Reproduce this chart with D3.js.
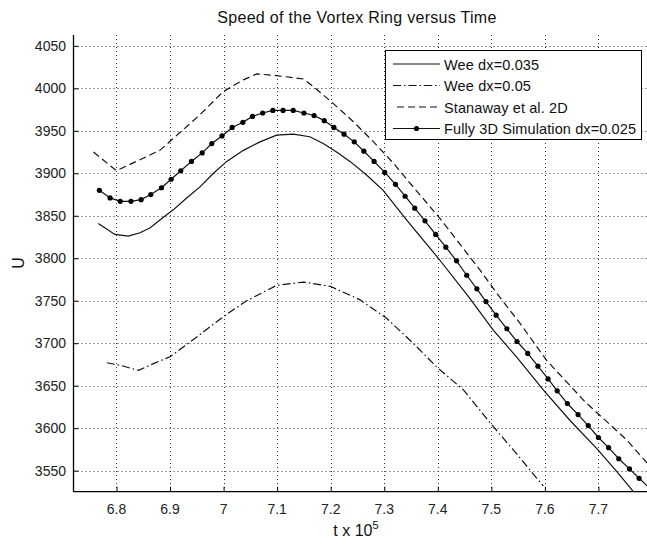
<!DOCTYPE html>
<html>
<head>
<meta charset="utf-8">
<script src="https://cdn.jsdelivr.net/npm/d3@7"></script>
<style>
  body { margin: 0; background: #fff; }
  svg { display: block; font-family: Arial, "Liberation Sans", sans-serif; }
</style>
</head>
<body>
<script>
// Tick values and labels
const xTicks = [6.8, 6.9, 7.0, 7.1, 7.2, 7.3, 7.4, 7.5, 7.6, 7.7];
const xTickLabels = ["6.8", "6.9", "7", "7.1", "7.2", "7.3", "7.4", "7.5", "7.6", "7.7"];
const yTicks = [3550, 3600, 3650, 3700, 3750, 3800, 3850, 3900, 3950, 4000, 4050];

// Wee dx=0.035 (solid)
const weeFineT = [6.766, 6.797, 6.822, 6.844, 6.863, 6.881, 6.906, 6.931, 6.956, 6.981, 7.006, 7.037, 7.068, 7.099, 7.130, 7.161, 7.186, 7.211, 7.236, 7.267, 7.298, 7.342, 7.401, 7.457, 7.504, 7.547, 7.597, 7.647, 7.697, 7.734, 7.763, 7.790];
const weeFineU = [3841, 3828, 3826, 3830, 3836, 3845, 3857, 3871, 3884, 3900, 3914, 3927, 3937, 3945, 3946, 3943, 3935, 3925, 3914, 3898, 3880, 3845, 3800, 3755, 3715, 3684, 3645, 3609, 3576, 3549, 3527, 3503];

// Wee dx=0.05 (dash-dot)
const weeCoarseT = [6.782, 6.807, 6.841, 6.869, 6.900, 6.943, 6.999, 7.043, 7.099, 7.149, 7.199, 7.255, 7.305, 7.354, 7.398, 7.448, 7.498, 7.547, 7.585, 7.597];
const weeCoarseU = [3677, 3674, 3668, 3676, 3684, 3704, 3731, 3750, 3768, 3772, 3767, 3751, 3729, 3700, 3672, 3645, 3606, 3570, 3541, 3532];

// Stanaway et al. 2D (dashed)
const stanT = [6.757, 6.800, 6.810, 6.881, 6.956, 6.999, 7.037, 7.062, 7.099, 7.149, 7.168, 7.205, 7.242, 7.280, 7.317, 7.354, 7.404, 7.442, 7.479, 7.510, 7.554, 7.603, 7.675, 7.722, 7.753, 7.791];
const stanU = [3925, 3903, 3906, 3927, 3969, 3996, 4010, 4017, 4015, 4011, 4002, 3982, 3961, 3937, 3912, 3884, 3847, 3816, 3786, 3759, 3723, 3680, 3631, 3604, 3586, 3559];

// Fully 3D Simulation dx=0.025 (solid with markers)
const simT = [6.768, 6.788, 6.807, 6.827, 6.846, 6.864, 6.884, 6.902, 6.920, 6.940, 6.960, 6.978, 6.997, 7.016, 7.036, 7.054, 7.073, 7.092, 7.111, 7.130, 7.150, 7.169, 7.188, 7.206, 7.225, 7.244, 7.262, 7.281, 7.301, 7.321, 7.339, 7.357, 7.376, 7.396, 7.415, 7.435, 7.454, 7.473, 7.490, 7.509, 7.529, 7.548, 7.568, 7.587, 7.606, 7.623, 7.642, 7.662, 7.681, 7.700, 7.719, 7.738, 7.758, 7.776, 7.796];
const simU = [3880, 3871, 3867, 3867, 3869, 3875, 3883, 3893, 3903, 3914, 3924, 3935, 3944, 3954, 3960, 3967, 3971, 3974, 3974, 3974, 3971, 3968, 3962, 3954, 3946, 3937, 3926, 3914, 3901, 3887, 3873, 3859, 3844, 3828, 3813, 3797, 3780, 3764, 3749, 3733, 3717, 3702, 3688, 3673, 3658, 3644, 3629, 3616, 3603, 3589, 3577, 3564, 3552, 3541, 3529];

const seriesNames = ["Wee dx=0.035", "Wee dx=0.05", "Stanaway et al. 2D", "Fully 3D Simulation dx=0.025"];

const width = 647, height = 544;
const plot = { left: 73.5, right: 647, top: 35, bottom: 491.7 };

const svg = d3.select("body").append("svg")
  .attr("width", width)
  .attr("height", height);

const x = d3.scaleLinear().domain([6.7197, 7.7907]).range([plot.left, plot.right]);
const y = d3.scaleLinear().domain([3525.2, 4062.8]).range([plot.bottom, plot.top]);

svg.append("defs").append("clipPath").attr("id", "clip")
  .append("rect")
  .attr("x", plot.left).attr("y", plot.top)
  .attr("width", plot.right - plot.left).attr("height", plot.bottom - plot.top);

// Grid (dotted)
const grid = svg.append("g").attr("stroke", "#333").attr("stroke-width", 1)
  .attr("stroke-dasharray", "1,3");
grid.selectAll(".gx").data(xTicks).enter().append("line")
  .attr("x1", d => Math.round(x(d)) + 0.5).attr("x2", d => Math.round(x(d)) + 0.5)
  .attr("y1", plot.top).attr("y2", plot.bottom);
grid.selectAll(".gy").data(yTicks).enter().append("line")
  .attr("y1", d => Math.round(y(d)) + 0.5).attr("y2", d => Math.round(y(d)) + 0.5)
  .attr("x1", plot.left).attr("x2", plot.right);

// Axes (MATLAB style: inward ticks)
const xAxis = d3.axisTop(x).tickValues(xTicks).tickSize(5).tickFormat("");
const yAxis = d3.axisRight(y).tickValues(yTicks).tickSize(5).tickFormat("");
svg.append("g").attr("transform", `translate(0,${plot.bottom})`).call(xAxis)
  .call(g => g.select(".domain").remove());
svg.append("g").attr("transform", `translate(${plot.left},0)`).call(yAxis)
  .call(g => g.select(".domain").remove());

svg.append("line").attr("x1", plot.left).attr("x2", plot.right)
  .attr("y1", plot.bottom).attr("y2", plot.bottom).attr("stroke", "#000").attr("stroke-width", 1.3);
svg.append("line").attr("x1", plot.left).attr("x2", plot.left)
  .attr("y1", plot.top).attr("y2", plot.bottom).attr("stroke", "#000").attr("stroke-width", 1.3);

// Tick labels
svg.append("g").selectAll("text").data(xTicks).enter().append("text")
  .attr("x", d => x(d)).attr("y", 514)
  .attr("text-anchor", "middle").attr("font-size", 14).attr("fill", "#222")
  .text((d, i) => xTickLabels[i]);
svg.append("g").selectAll("text").data(yTicks).enter().append("text")
  .attr("x", 66).attr("y", d => y(d) + 5)
  .attr("text-anchor", "end").attr("font-size", 14).attr("fill", "#222")
  .text(d => d);

// Titles
svg.append("text").attr("x", 357).attr("y", 23).attr("text-anchor", "middle")
  .attr("font-size", 16).attr("letter-spacing", 0.3).attr("fill", "#111")
  .text("Speed of the Vortex Ring versus Time");
const xl = svg.append("text").attr("x", 356).attr("y", 536).attr("text-anchor", "middle")
  .attr("font-size", 16).attr("fill", "#111");
xl.append("tspan").text("t x 10");
xl.append("tspan").attr("dy", -7).attr("font-size", 11).text("5");
svg.append("text").attr("transform", "translate(24,263) rotate(-90)")
  .attr("text-anchor", "middle").attr("font-size", 16).attr("fill", "#111").text("U");

// Curves
const line = d3.line().x(d => x(d[0])).y(d => y(d[1]));
const curves = svg.append("g").attr("clip-path", "url(#clip)").attr("fill", "none")
  .attr("stroke", "#111").attr("stroke-width", 1.2);

const zip = (a, b) => a.map((v, i) => [v, b[i]]);
const styles = [
  { data: zip(weeFineT, weeFineU), dash: null },
  { data: zip(weeCoarseT, weeCoarseU), dash: "8,3,1.5,3" },
  { data: zip(stanT, stanU), dash: "7,4" },
  { data: zip(simT, simU), dash: null }
];
styles.forEach(s => {
  curves.append("path").attr("d", line(s.data))
    .attr("stroke-dasharray", s.dash);
});
curves.selectAll("circle").data(styles[3].data).enter().append("circle")
  .attr("cx", d => x(d[0])).attr("cy", d => y(d[1])).attr("r", 2.6)
  .attr("fill", "#000").attr("stroke", "none");

// Legend
const lg = svg.append("g");
lg.append("rect").attr("x", 385.5).attr("y", 50.5).attr("width", 256).attr("height", 89)
  .attr("fill", "#fff").attr("stroke", "#000").attr("stroke-width", 1);
const rowsY = [64, 85.5, 107, 128.5];
const legendTexts = seriesNames.map((name, i) => {
  lg.append("line").attr("x1", i === 2 ? 397 : 393).attr("x2", 440)
    .attr("y1", rowsY[i]).attr("y2", rowsY[i])
    .attr("stroke", "#111").attr("stroke-width", 1.2)
    .attr("stroke-dasharray", styles[i].dash);
  return lg.append("text").attr("x", 444).attr("y", rowsY[i] + 5.5)
    .attr("font-size", 14.5).attr("fill", "#111").text(name);
});
// stretch legend text slightly so the longest label ends where the reference's does
const longest = legendTexts[3].node().getComputedTextLength();
const k = 192 / longest;
legendTexts.forEach(t => {
  const w = t.node().getComputedTextLength();
  t.attr("textLength", w * k).attr("lengthAdjust", "spacing");
});
lg.append("circle").attr("cx", 416.5).attr("cy", rowsY[3]).attr("r", 2.6).attr("fill", "#000");
</script>
</body>
</html>
